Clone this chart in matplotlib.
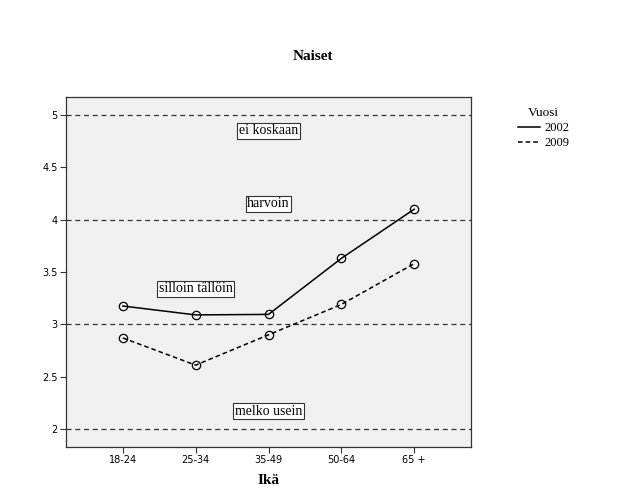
import matplotlib
matplotlib.use("Agg")
import matplotlib.pyplot as plt

categories = ["18-24", "25-34", "35-49", "50-64", "65 +"]
series_2002 = [3.175, 3.09, 3.095, 3.63, 4.10]
series_2009 = [2.87, 2.61, 2.90, 3.19, 3.58]
ref_lines = [2, 3, 4, 5]
yticks = [2, 2.5, 3, 3.5, 4, 4.5, 5]
ytick_labels = ["2", "2.5", "3", "3.5", "4", "4.5", "5"]
annotations = [("ei koskaan", 2, 4.85), ("harvoin", 2, 4.15),
               ("silloin tällöin", 1, 3.34), ("melko usein", 2, 2.17)]

fig = plt.figure(figsize=(6.29, 5.04), dpi=100)
ax = fig.add_axes([66/629, 57/504, 405/629, 350/504])
ax.set_facecolor("#f0f0f0")

x = list(range(len(categories)))
for v in ref_lines:
    ax.axhline(v, color="#333333", lw=0.9, ls=(0, (4, 3)), zorder=1)

ax.plot(x, series_2002, color="black", lw=1.1, ls="-", marker="o", ms=6,
        mfc="none", mec="black", mew=0.9, label="2002", zorder=3)
ax.plot(x, series_2009, color="black", lw=1.1, ls=(0, (3, 2)), marker="o", ms=6,
        mfc="none", mec="black", mew=0.9, label="2009", zorder=3)

for txt, xi, yi in annotations:
    ax.text(xi, yi, txt, ha="center", va="center", family="Liberation Serif",
            fontsize=10, bbox=dict(boxstyle="square,pad=0.1", fc="white", ec="#333333", lw=0.8),
            zorder=4)

ax.set_xlim(-0.78, 4.78)
ax.set_ylim(1.828, 5.172)
ax.set_xticks(x)
ax.set_xticklabels(categories, family="DejaVu Sans", fontsize=7)
ax.set_yticks(yticks)
ax.set_yticklabels(ytick_labels, family="DejaVu Sans", fontsize=7)
ax.tick_params(length=4, width=0.8, color="#333333", pad=2)
for s in ax.spines.values():
    s.set_color("#333333")
    s.set_linewidth(0.9)

ax.set_xlabel("Ikä", family="Liberation Serif", fontsize=11, fontweight="bold", labelpad=6)
fig.text(313/629, 1 - 57/504, "Naiset", ha="center", va="center",
         family="Liberation Serif", fontsize=11, fontweight="bold")

leg = fig.legend(loc="upper left", bbox_to_anchor=(509/629, 1 - 98/504), frameon=False,
                 title="Vuosi", prop={"family": "Liberation Serif", "size": 9},
                 handlelength=1.8, handletextpad=0.3, labelspacing=0.25, borderpad=0.2)
leg.get_title().set_fontfamily("Liberation Serif")
leg.get_title().set_fontsize(9.5)
for h in leg.legend_handles:
    h.set_marker("")

fig.savefig("out.png", dpi=100)
